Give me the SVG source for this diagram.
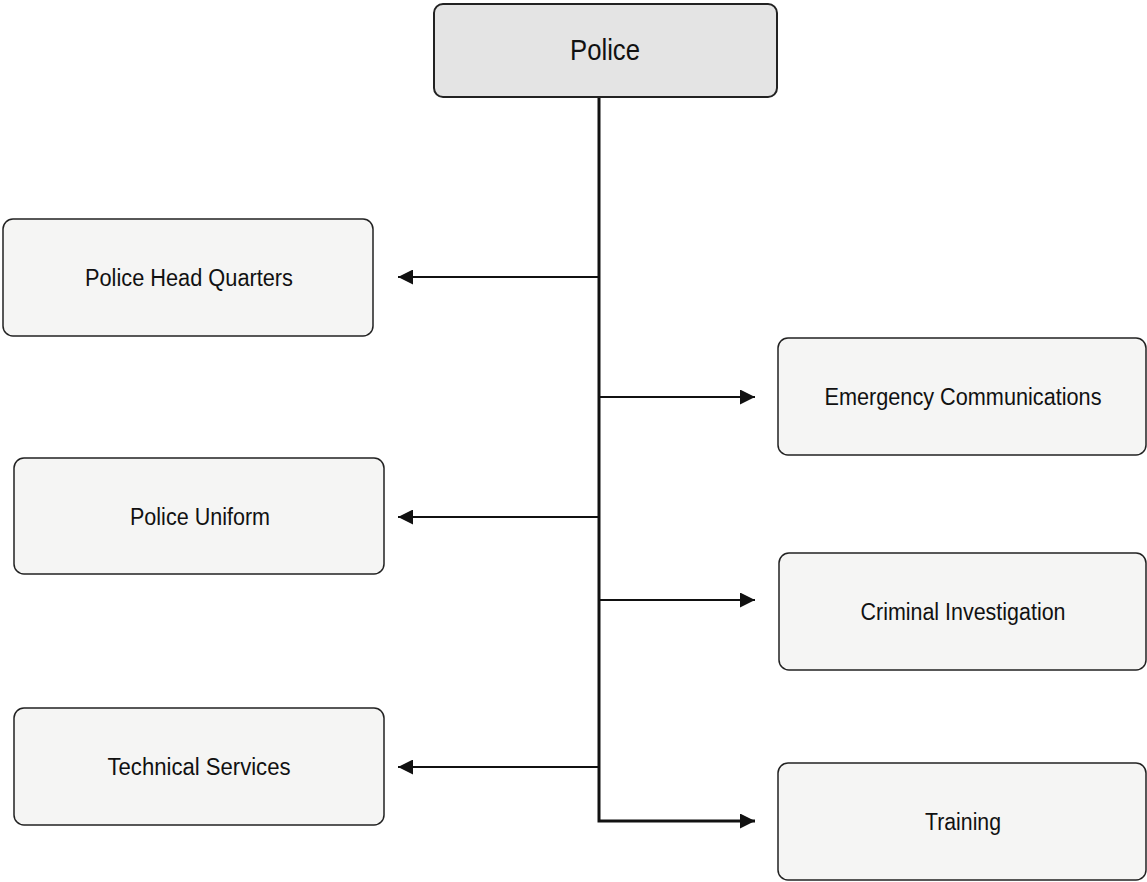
<svg xmlns="http://www.w3.org/2000/svg" width="1147" height="882" viewBox="0 0 1147 882">
<style>
.box{fill:#f5f5f4;stroke:#222;stroke-width:1.5}
.top{fill:#e4e4e4;stroke:#222;stroke-width:2}
.lbl{font-family:"Liberation Sans",Arial,sans-serif;font-size:23px;fill:#111;text-anchor:middle;dominant-baseline:central}
.big{font-size:29px}
.ln{stroke:#111;stroke-width:2;fill:none}
.trunk{stroke:#111;stroke-width:3;fill:none}
</style>
<defs>
<marker id="ah" viewBox="0 0 10 10" refX="10" refY="5" markerWidth="15" markerHeight="15" markerUnits="userSpaceOnUse" orient="auto">
<path d="M0,0 L10,5 L0,10 z" fill="#111"/>
</marker>
</defs>
<rect width="1147" height="882" fill="#fff"/>
<g id="connectors">
<path class="trunk" d="M599,97 V821 H755" marker-end="url(#ah)"/>
<path class="ln" d="M599,277 H398" marker-end="url(#ah)"/>
<path class="ln" d="M599,397 H755" marker-end="url(#ah)"/>
<path class="ln" d="M599,517 H398" marker-end="url(#ah)"/>
<path class="ln" d="M599,600 H755" marker-end="url(#ah)"/>
<path class="ln" d="M599,767 H398" marker-end="url(#ah)"/>
</g>
<g id="police">
<rect class="top" x="434" y="4" width="343" height="93" rx="9"/>
<text class="lbl big" x="605" y="50" textLength="70" lengthAdjust="spacingAndGlyphs">Police</text>
</g>
<g id="hq">
<rect class="box" x="3" y="219" width="370" height="117" rx="10"/>
<text class="lbl" x="189" y="278" textLength="208" lengthAdjust="spacingAndGlyphs">Police Head Quarters</text>
</g>
<g id="emergency">
<rect class="box" x="778" y="338" width="368" height="117" rx="10"/>
<text class="lbl" x="963" y="397" textLength="277" lengthAdjust="spacingAndGlyphs">Emergency Communications</text>
</g>
<g id="uniform">
<rect class="box" x="14" y="458" width="370" height="116" rx="10"/>
<text class="lbl" x="200" y="517" textLength="140" lengthAdjust="spacingAndGlyphs">Police Uniform</text>
</g>
<g id="criminal">
<rect class="box" x="779" y="553" width="367" height="117" rx="10"/>
<text class="lbl" x="963" y="612" textLength="205" lengthAdjust="spacingAndGlyphs">Criminal Investigation</text>
</g>
<g id="technical">
<rect class="box" x="14" y="708" width="370" height="117" rx="10"/>
<text class="lbl" x="199" y="767" textLength="183" lengthAdjust="spacingAndGlyphs">Technical Services</text>
</g>
<g id="training">
<rect class="box" x="778" y="763" width="368" height="117" rx="10"/>
<text class="lbl" x="963" y="822" textLength="76" lengthAdjust="spacingAndGlyphs">Training</text>
</g>
</svg>
